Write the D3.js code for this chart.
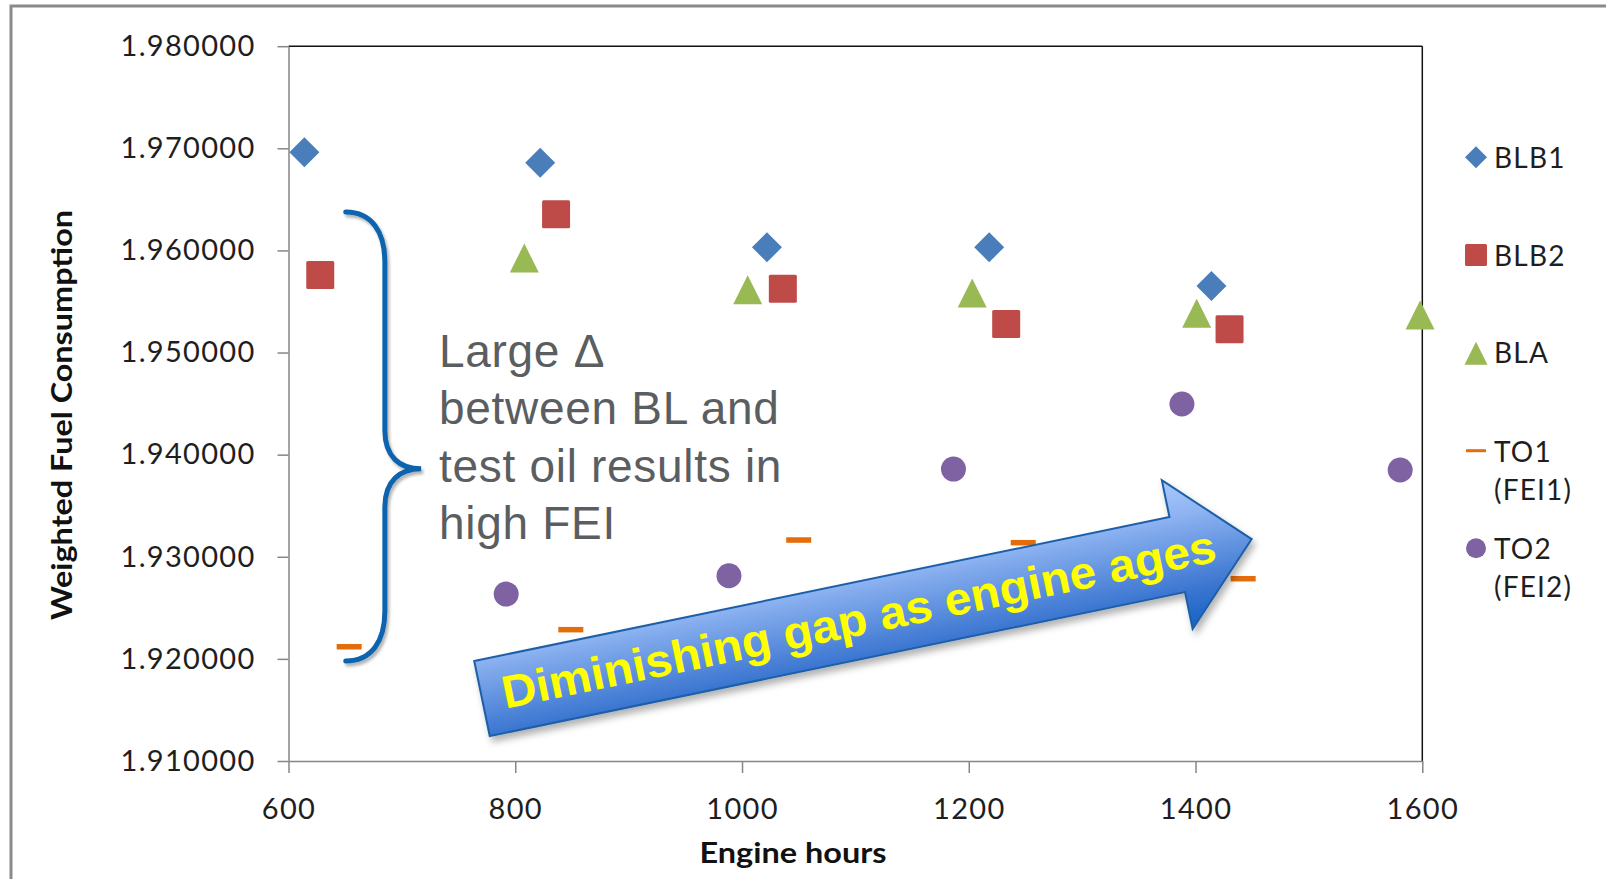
<!DOCTYPE html>
<html>
<head>
<meta charset="utf-8">
<script src="https://cdn.jsdelivr.net/npm/d3@7"></script>
<style>
  html, body { margin: 0; padding: 0; background: #fff; }
  svg { display: block; }
</style>
</head>
<body>
<svg id="chart" width="1606" height="879"></svg>
<script>
// ---- data: engine hours and weighted fuel consumption per oil run ----
const blb1Hours  = [614, 822, 1022, 1218, 1414];
const blb1Values = [1.96961, 1.96859, 1.96031, 1.96031, 1.95652];

const blb2Hours  = [628, 836, 1036, 1233, 1430];
const blb2Values = [1.95759, 1.96354, 1.95625, 1.95279, 1.95228];

const blaHours   = [808, 1005, 1203, 1401, 1598];
const blaValues  = [1.95926, 1.95615, 1.95583, 1.95384, 1.95368];

const to1Hours   = [653.5, 849, 1050, 1248, 1442];
const to1Values  = [1.92119, 1.92286, 1.93164, 1.93138, 1.92785];

const to2Hours   = [792, 988.5, 1186.5, 1388, 1580.5];
const to2Values  = [1.92635, 1.92814, 1.93859, 1.94496, 1.93850];

const seriesNames = ["BLB1", "BLB2", "BLA", "TO1\n(FEI1)", "TO2\n(FEI2)"];
const xTicks = [600, 800, 1000, 1200, 1400, 1600];
const yTicks = [1.91, 1.92, 1.93, 1.94, 1.95, 1.96, 1.97, 1.98];

const noteLines = ["Large Δ", "between BL and", "test oil results in", "high FEI"];
const arrowLabel = "Diminishing gap as engine ages";

// ---- layout ----
const svg = d3.select("#chart");
const W = 1606, H = 879;
const plot = { left: 288.5, right: 1422.3, top: 46.2, bottom: 761 };

const x = d3.scaleLinear().domain([600, 1600]).range([plot.left, plot.right]);
const y = d3.scaleLinear().domain([1.91, 1.98]).range([plot.bottom, plot.top]);

const tickFont = "Lato, 'Open Sans', sans-serif";

svg.append("rect").attr("width", W).attr("height", H).attr("fill", "#fff");

// outer chart frame (only its top and left edges fall inside the view)
svg.append("rect")
  .attr("x", 11).attr("y", 6)
  .attr("width", W + 40).attr("height", H + 40)
  .attr("fill", "none").attr("stroke", "#8a8a8a").attr("stroke-width", 3);

const defs = svg.append("defs");
const shadow = defs.append("filter").attr("id", "softShadow")
  .attr("x", "-10%").attr("y", "-20%").attr("width", "130%").attr("height", "150%");
shadow.append("feDropShadow")
  .attr("dx", 3).attr("dy", 5).attr("stdDeviation", 3.5)
  .attr("flood-color", "#000").attr("flood-opacity", 0.3);

const braceShadow = defs.append("filter").attr("id", "braceShadow")
  .attr("x", "-30%").attr("y", "-10%").attr("width", "160%").attr("height", "120%");
braceShadow.append("feDropShadow")
  .attr("dx", 2).attr("dy", 3).attr("stdDeviation", 1.5)
  .attr("flood-color", "#000").attr("flood-opacity", 0.3);

const grad = defs.append("linearGradient").attr("id", "arrowFill")
  .attr("x1", 0).attr("y1", 0).attr("x2", 0).attr("y2", 1);
grad.append("stop").attr("offset", "0%").attr("stop-color", "#a9c9fb");
grad.append("stop").attr("offset", "25%").attr("stop-color", "#8db3f1");
grad.append("stop").attr("offset", "75%").attr("stop-color", "#3a75d0");
grad.append("stop").attr("offset", "100%").attr("stop-color", "#1763c4");

// ---- plot area border (top and right) ----
svg.append("line")
  .attr("x1", plot.left).attr("x2", plot.right)
  .attr("y1", plot.top).attr("y2", plot.top)
  .attr("stroke", "#111").attr("stroke-width", 1.5);
svg.append("line")
  .attr("x1", plot.right).attr("x2", plot.right)
  .attr("y1", plot.top).attr("y2", plot.bottom)
  .attr("stroke", "#111").attr("stroke-width", 1.5);

// ---- axes ----
const yAxis = d3.axisLeft(y)
  .tickValues(yTicks)
  .tickFormat(d3.format(".6f"))
  .tickSizeInner(11).tickSizeOuter(0).tickPadding(22);
const xAxis = d3.axisBottom(x)
  .tickValues(xTicks)
  .tickFormat(d3.format("d"))
  .tickSizeInner(12).tickSizeOuter(0).tickPadding(25);

function styleAxis(g) {
  g.select(".domain").attr("stroke", "#868686").attr("stroke-width", 1.5);
  g.selectAll(".tick line").attr("stroke", "#868686").attr("stroke-width", 1.5);
  g.selectAll(".tick text")
    .attr("fill", "#1e1e1e")
    .style("font-family", tickFont)
    .style("font-size", "29px")
    .style("letter-spacing", "1.3px");
}

svg.append("g").attr("transform", `translate(${plot.left},0)`).call(yAxis).call(styleAxis);
svg.append("g").attr("transform", `translate(0,${plot.bottom})`).call(xAxis).call(styleAxis);

// axis titles
svg.append("text")
  .attr("transform", "translate(72,415) rotate(-90)")
  .attr("text-anchor", "middle")
  .attr("textLength", 410).attr("lengthAdjust", "spacingAndGlyphs")
  .style("font-family", tickFont).style("font-weight", 700).style("font-size", "29px")
  .attr("fill", "#111")
  .text("Weighted Fuel Consumption");

svg.append("text")
  .attr("x", 793).attr("y", 863)
  .attr("text-anchor", "middle")
  .attr("textLength", 187).attr("lengthAdjust", "spacingAndGlyphs")
  .style("font-family", tickFont).style("font-weight", 700).style("font-size", "29px")
  .attr("fill", "#111")
  .text("Engine hours");

// ---- marker shapes ----
const colors = {
  blb1: "#4a7ebb", blb2: "#be4b48", bla: "#98b954", to1: "#e46c0a", to2: "#7e62a1"
};

function diamondPath(s) {   // s = full diagonal
  const h = s / 2;
  return `M0,${-h}L${h},0L0,${h}L${-h},0Z`;
}
function trianglePath(s) {  // bounding box centred on the point
  const h = s / 2;
  return `M0,${-h}L${h},${h}L${-h},${h}Z`;
}

const series = [
  { key: "blb1", hours: blb1Hours, values: blb1Values, shape: "diamond", size: 30 },
  { key: "blb2", hours: blb2Hours, values: blb2Values, shape: "square", size: 28 },
  { key: "bla",  hours: blaHours,  values: blaValues,  shape: "triangle", size: 29 },
  { key: "to1",  hours: to1Hours,  values: to1Values,  shape: "dash", size: 25 },
  { key: "to2",  hours: to2Hours,  values: to2Values,  shape: "circle", size: 25 }
];

function drawMarker(g, shape, size, color) {
  if (shape === "diamond") {
    g.append("path").attr("d", diamondPath(size)).attr("fill", color);
  } else if (shape === "square") {
    g.append("rect").attr("x", -size / 2).attr("y", -size / 2)
      .attr("width", size).attr("height", size).attr("rx", 1.5).attr("fill", color);
  } else if (shape === "triangle") {
    g.append("path").attr("d", trianglePath(size)).attr("fill", color);
  } else if (shape === "circle") {
    g.append("circle").attr("r", size / 2).attr("fill", color);
  } else if (shape === "dash") {
    const t = Math.max(3, size * 0.22);
    g.append("rect").attr("x", -size / 2).attr("y", -t / 2)
      .attr("width", size).attr("height", t).attr("fill", color);
  }
}

// ---- annotation: brace and note ----
const braceX0 = x(650.5), braceX1 = x(685), braceTip = x(717);
const braceTop = y(1.96376), braceBot = y(1.91980), braceMid = y(1.93861);
const braceD = [
  `M${braceX0},${braceTop}`,
  `C${braceX0 + 26},${braceTop} ${braceX1},${braceTop + 20} ${braceX1},${braceTop + 50}`,
  `L${braceX1},${braceMid - 38}`,
  `C${braceX1},${braceMid - 12} ${braceX1 + 15},${braceMid} ${braceTip},${braceMid}`,
  `C${braceX1 + 15},${braceMid} ${braceX1},${braceMid + 12} ${braceX1},${braceMid + 38}`,
  `L${braceX1},${braceBot - 50}`,
  `C${braceX1},${braceBot - 20} ${braceX0 + 26},${braceBot} ${braceX0},${braceBot}`
].join(" ");
svg.append("path")
  .attr("d", braceD)
  .attr("fill", "none")
  .attr("stroke", "#0b63ad")
  .attr("stroke-width", 5)
  .attr("stroke-linecap", "round")
  .attr("filter", "url(#braceShadow)");

const note = svg.append("text")
  .attr("x", 439).attr("y", 367)
  .attr("fill", "#5b5e61")
  .style("font-family", "'Liberation Sans', Arial, sans-serif")
  .style("font-size", "46px")
  .style("letter-spacing", "0.7px");
noteLines.forEach((line, i) => {
  note.append("tspan").attr("x", 439).attr("y", 367 + i * 57.4).text(line);
});

// ---- data marks ----
series.forEach(s => {
  const g = svg.append("g").attr("class", "series-" + s.key);
  s.hours.forEach((h, i) => {
    const m = g.append("g").attr("transform", `translate(${x(h)},${y(s.values[i])})`);
    drawMarker(m, s.shape, s.size, colors[s.key]);
  });
});

// ---- block arrow with label ----
const arrowAnchor = { hours: 763.8, value: 1.91979 };   // upper-left corner of the shaft
const arrowAngle = -11.7;
const shaftLen = 710, shaftW = 76.6, headLen = 76, headW = 152;
const headOver = (headW - shaftW) / 2;
const arrowTransform =
  `translate(${x(arrowAnchor.hours)},${y(arrowAnchor.value)}) rotate(${arrowAngle})`;

const arrowOuter = svg.append("g").attr("filter", "url(#softShadow)");
arrowOuter.append("g")
  .attr("transform", arrowTransform)
  .append("path")
  .attr("d", `M0,0 L${shaftLen},0 L${shaftLen},${-headOver} L${shaftLen + headLen},${shaftW / 2} ` +
             `L${shaftLen},${shaftW + headOver} L${shaftLen},${shaftW} L0,${shaftW} Z`)
  .attr("fill", "url(#arrowFill)")
  .attr("stroke", "#1d5fa8")
  .attr("stroke-width", 2)
  .attr("stroke-linejoin", "miter");

svg.append("g")
  .attr("transform", arrowTransform)
  .append("text")
  .attr("x", 385).attr("y", 53)
  .attr("text-anchor", "middle")
  .attr("textLength", 728).attr("lengthAdjust", "spacingAndGlyphs")
  .attr("fill", "#ffff00")
  .style("font-family", "'Liberation Sans', Arial, sans-serif")
  .style("font-weight", 700)
  .style("font-size", "46px")
  .text(arrowLabel);

// ---- legend ----
const legendX = 1476, legendTextX = 1494;
const legendRows = [
  { key: "blb1", shape: "diamond", size: 22, cy: 157.3, base: 168 },
  { key: "blb2", shape: "square", size: 22, cy: 255, base: 266 },
  { key: "bla",  shape: "triangle", size: 23, cy: 353.3, base: 363 },
  { key: "to1",  shape: "dash", size: 20, cy: 450.7, base: 462 },
  { key: "to2",  shape: "circle", size: 20, cy: 548.3, base: 559 }
];
const legend = svg.append("g").attr("class", "legend");
legendRows.forEach((r, i) => {
  const m = legend.append("g").attr("transform", `translate(${legendX},${r.cy})`);
  if (r.shape === "dash") {
    m.append("rect").attr("x", -10).attr("y", -1.5).attr("width", 20).attr("height", 3)
      .attr("fill", colors[r.key]);
  } else {
    drawMarker(m, r.shape, r.size, colors[r.key]);
  }
  const t = legend.append("text")
    .attr("fill", "#1e1e1e")
    .style("font-family", tickFont)
    .style("font-size", "28px")
    .style("letter-spacing", "1.2px");
  seriesNames[i].split("\n").forEach((line, j) => {
    t.append("tspan").attr("x", legendTextX).attr("y", r.base + j * 38).text(line);
  });
});
</script>
</body>
</html>
